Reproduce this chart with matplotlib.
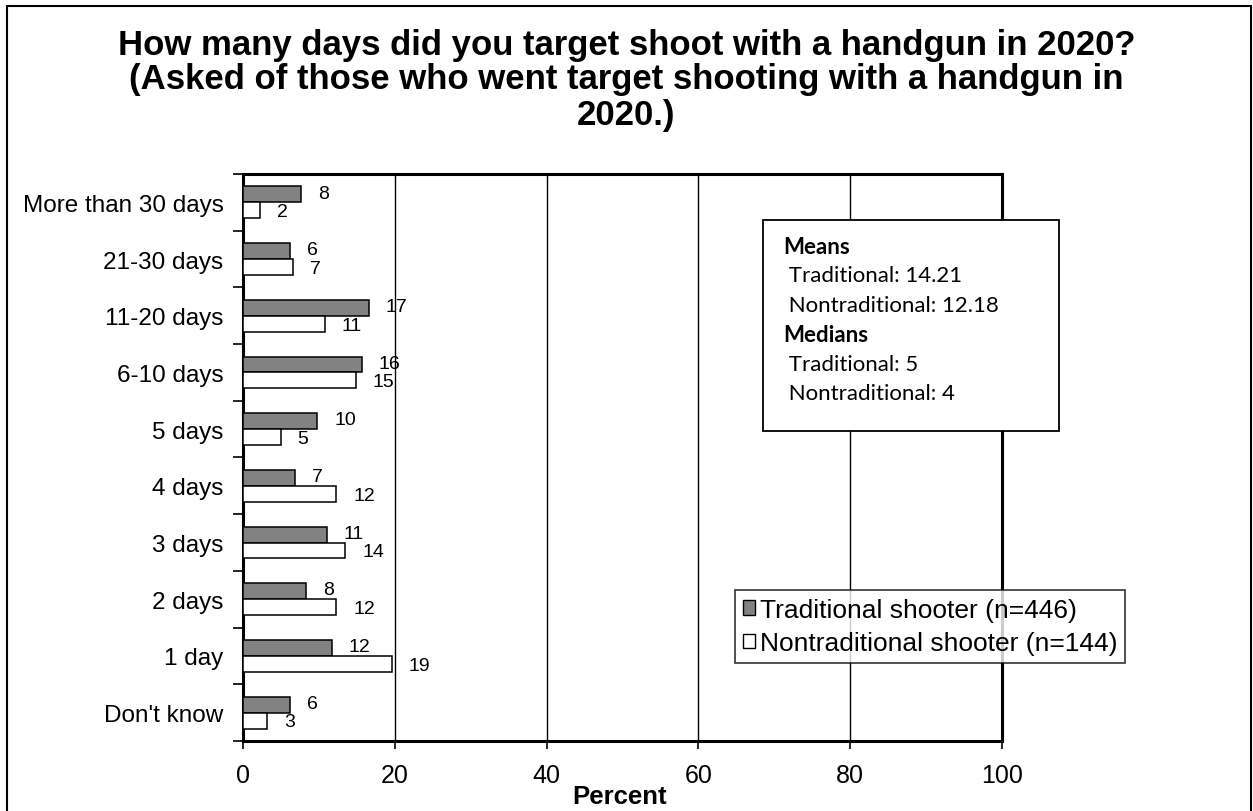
import matplotlib
matplotlib.use("Agg")
import matplotlib.pyplot as plt
from matplotlib.patches import Rectangle, Patch
import numpy as np

categories = ["More than 30 days", "21-30 days", "11-20 days", "6-10 days", "5 days",
              "4 days", "3 days", "2 days", "1 day", "Don't know"]
traditional = [7.7, 6.2, 16.6, 15.7, 9.8, 6.9, 11.1, 8.3, 11.7, 6.2]
nontraditional = [2.3, 6.6, 10.8, 14.9, 5.0, 12.3, 13.5, 12.3, 19.6, 3.2]
trad_labels = ["8", "6", "17", "16", "10", "7", "11", "8", "12", "6"]
nontrad_labels = ["2", "7", "11", "15", "5", "12", "14", "12", "19", "3"]
series_names = ["Traditional shooter (n=446)", "Nontraditional shooter (n=144)"]
x_ticks = [0, 20, 40, 60, 80, 100]
title_lines = ["How many days did you target shoot with a handgun in 2020?",
               "(Asked of those who went target shooting with a handgun in",
               "2020.)"]
stats_lines = [("Means", True), (" Traditional: 14.21", False), (" Nontraditional: 12.18", False),
               ("Medians", True), (" Traditional: 5", False), (" Nontraditional: 4", False)]

W, H = 1253, 812
fig = plt.figure(figsize=(W / 100, H / 100), dpi=100)
plt.rcParams['font.family'] = ['Liberation Sans', 'DejaVu Sans']

def fx(px):
    return px / W

def fy(py):
    return 1 - py / H

# figure border
fig.patches.append(Rectangle((fx(7), fy(830)), fx(1251) - fx(7), fy(7) - fy(830),
                             transform=fig.transFigure, fill=False, edgecolor='black',
                             linewidth=1.5, zorder=0))

ax = fig.add_axes([fx(243), fy(742), fx(1002) - fx(243), fy(175) - fy(742)])

n = len(categories)
y = np.arange(n)
bh = 0.28
tc, nc = '#828282', 'white'
ax.barh(y - bh / 2, traditional, height=bh, color=tc, edgecolor='black', linewidth=1.1, zorder=3)
ax.barh(y + bh / 2, nontraditional, height=bh, color=nc, edgecolor='black', linewidth=1.1, zorder=3)

for i in range(n):
    ax.annotate(trad_labels[i], (traditional[i], y[i] - bh / 2), xytext=(12, 1),
                textcoords='offset points', ha='left', va='center', fontsize=14, zorder=4)
    ax.annotate(nontrad_labels[i], (nontraditional[i], y[i] + bh / 2), xytext=(12, -1),
                textcoords='offset points', ha='left', va='center', fontsize=14, zorder=4)

ax.set_xlim(0, 100)
ax.set_ylim(n - 0.5, -0.5)
ax.set_xticks(x_ticks)
ax.set_xticklabels([str(v) for v in x_ticks], fontsize=18)
ax.set_yticks(y)
ax.set_yticklabels(categories, fontsize=17.5)
ax.tick_params(axis='y', which='major', length=0, pad=14)
ax.set_yticks(np.arange(-0.5, n, 1.0), minor=True)
ax.tick_params(axis='y', which='minor', length=7, width=1.2, direction='out')
ax.tick_params(axis='x', which='major', length=6, width=1.2, direction='out', pad=10)
for v in x_ticks[1:-1]:
    ax.axvline(v, color='black', linewidth=1.0, zorder=1)
for s in ax.spines.values():
    s.set_linewidth(2.2)
    s.set_color('black')

fig.text(fx(620), fy(797), "Percent", ha='center', va='center', fontsize=18.5,
         fontweight='bold')

for k, line in enumerate(title_lines):
    fig.text(0.5, fy(45 + 35 * k), line, ha='center', va='center', fontsize=25,
             fontweight='bold')

# stats box
box = Rectangle((fx(763), fy(432)), fx(1059) - fx(763), fy(221) - fy(432),
                transform=fig.transFigure, facecolor='white', edgecolor='black',
                linewidth=1.3, zorder=10)
fig.patches.append(box)
for k, (txt, bold) in enumerate(stats_lines):
    fig.text(fx(783), fy(247 + k * 29.4), txt, ha='left', va='center', fontsize=16,
             fontweight='bold' if bold else 'normal', family=['Lato', 'DejaVu Sans'],
             zorder=11)

handles = [Patch(facecolor=tc, edgecolor='black', linewidth=1.0),
           Patch(facecolor=nc, edgecolor='black', linewidth=1.0)]
leg = fig.legend(handles, series_names, loc='upper left',
                 bbox_to_anchor=(fx(735), fy(591)), bbox_transform=fig.transFigure,
                 fontsize=19, frameon=True, fancybox=False, borderaxespad=0,
                 handlelength=0.45, handleheight=0.45, handletextpad=0.2,
                 labelspacing=0.35, borderpad=0.3)
leg.get_frame().set_edgecolor('black')
leg.get_frame().set_linewidth(1.2)

fig.savefig("out.png", dpi=100)
